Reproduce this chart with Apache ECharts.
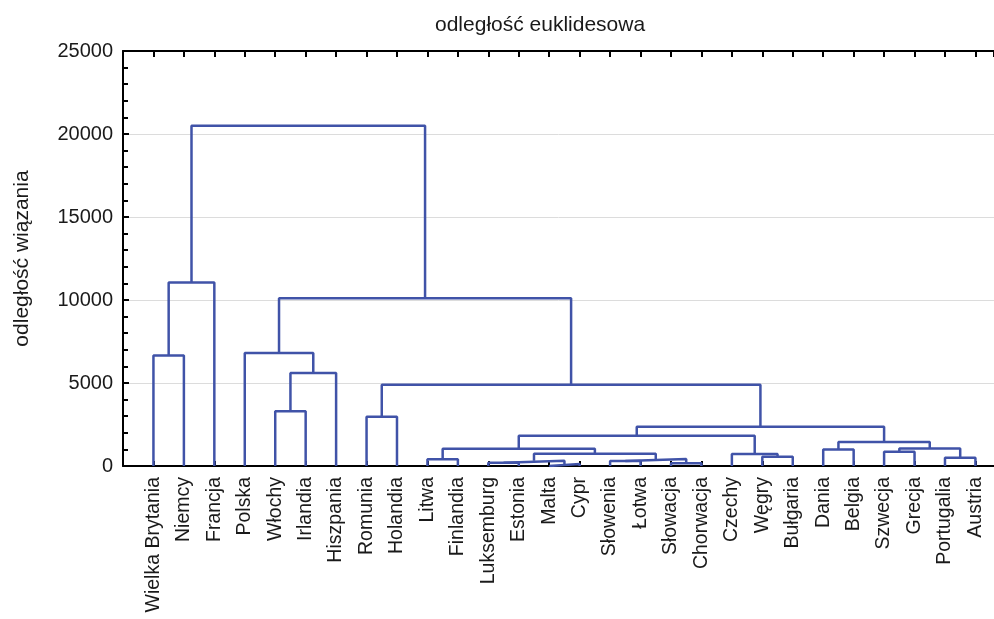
<!DOCTYPE html>
<html>
<head>
<meta charset="utf-8">
<script src="https://cdn.jsdelivr.net/npm/echarts@6/dist/echarts.min.js"></script>
<style>html,body{margin:0;padding:0;background:#fff;overflow:hidden}#c{width:994px;height:619px}</style>
</head>
<body>
<div id="c"></div>
<script>
// Leaves in dendrogram order
const leaves = ['Wielka Brytania','Niemcy','Francja','Polska','Włochy','Irlandia','Hiszpania','Romunia','Holandia','Litwa','Finlandia','Luksemburg','Estonia','Malta','Cypr','Słowenia','Łotwa','Słowacja','Chorwacja','Czechy','Węgry','Bułgaria','Dania','Belgia','Szwecja','Grecja','Portugalia','Austria'];
// Merges: [left cluster id, right cluster id]; leaves are 0..27, merge k creates id 28+k
const mergeLeft  = [0, 28, 4, 30, 3, 7, 9, 11, 13, 35, 15, 17, 38, 37, 34, 20, 19, 42, 22, 24, 26, 47, 46, 45, 33, 32, 29];
const mergeRight = [1, 2, 5, 6, 31, 8, 10, 12, 14, 36, 16, 18, 39, 40, 41, 21, 43, 44, 23, 25, 27, 48, 49, 50, 51, 52, 53];
// Linkage distances of each merge
const mergeHeight = [6650, 11060, 3300, 5600, 6810, 2960, 400, 200, 120, 320, 300, 160, 420, 740, 1040, 560, 720, 1820, 1000, 860, 500, 1060, 1440, 2360, 4890, 10100, 20500];
const yTicks = [0, 5000, 10000, 15000, 20000, 25000];

const n = leaves.length;
const pos = leaves.map((_, i) => i);
const hgt = leaves.map(() => 0);
const series = [];
for (let k = 0; k < mergeHeight.length; k++) {
  const a = mergeLeft[k], b = mergeRight[k], h = mergeHeight[k];
  series.push({
    type: 'line', symbol: 'none', animation: false, silent: true,
    lineStyle: { color: '#4053A8', width: 2.5 },
    data: [[pos[a], hgt[a]], [pos[a], h], [pos[b], h], [pos[b], hgt[b]]]
  });
  pos.push((pos[a] + pos[b]) / 2);
  hgt.push(h);
}

const FONT = 'Liberation Sans, Arial, sans-serif';
const X_MIN = -1, X_MAX = 27.61; // plot is cut at the right edge of the picture
const chart = echarts.init(document.getElementById('c'));
chart.setOption({
  animation: false,
  title: {
    text: 'odległość euklidesowa', left: 430, top: 10,
    textStyle: { fontFamily: FONT, fontSize: 21, fontWeight: 'normal', color: '#1a1a1a' }
  },
  grid: { left: 123, right: 0, top: 51, bottom: 153, containLabel: false },
  xAxis: [{
    type: 'value', min: X_MIN, max: X_MAX, interval: 1, position: 'bottom',
    axisLine: { onZero: false, lineStyle: { color: '#000', width: 2 } },
    axisTick: { inside: true, length: 5, lineStyle: { color: '#000', width: 2 } },
    splitLine: { show: false },
    axisLabel: {
      rotate: 90, margin: 11, fontFamily: FONT, fontSize: 19.5, color: '#1a1a1a',
      showMaxLabel: false,
      formatter: v => (Number.isInteger(v) && v >= 0 && v < n) ? leaves[v] : ''
    }
  }, {
    type: 'value', min: X_MIN, max: X_MAX, interval: 1, position: 'top',
    axisLine: { show: true, onZero: false, lineStyle: { color: '#000', width: 2 } },
    axisTick: { show: true, inside: true, length: 6, lineStyle: { color: '#000', width: 2 } },
    splitLine: { show: false },
    axisLabel: { show: false }
  }],
  yAxis: {
    type: 'value', min: yTicks[0], max: yTicks[yTicks.length - 1], interval: 5000,
    name: 'odległość wiązania', nameLocation: 'middle', nameGap: 90, nameRotate: 90,
    nameTextStyle: { fontFamily: FONT, fontSize: 21, color: '#1a1a1a' },
    axisLine: { show: true, onZero: false, lineStyle: { color: '#000', width: 2 } },
    axisTick: { inside: true, length: 6, lineStyle: { color: '#000', width: 2 } },
    minorTick: { show: true, splitNumber: 5, length: 5, lineStyle: { color: '#000', width: 2 } },
    splitLine: { show: true, lineStyle: { color: '#dcdcdc', width: 1 } },
    axisLabel: { margin: 10, fontFamily: FONT, fontSize: 20, color: '#1a1a1a', formatter: v => String(v) }
  },
  series: series
});
</script>
</body>
</html>
